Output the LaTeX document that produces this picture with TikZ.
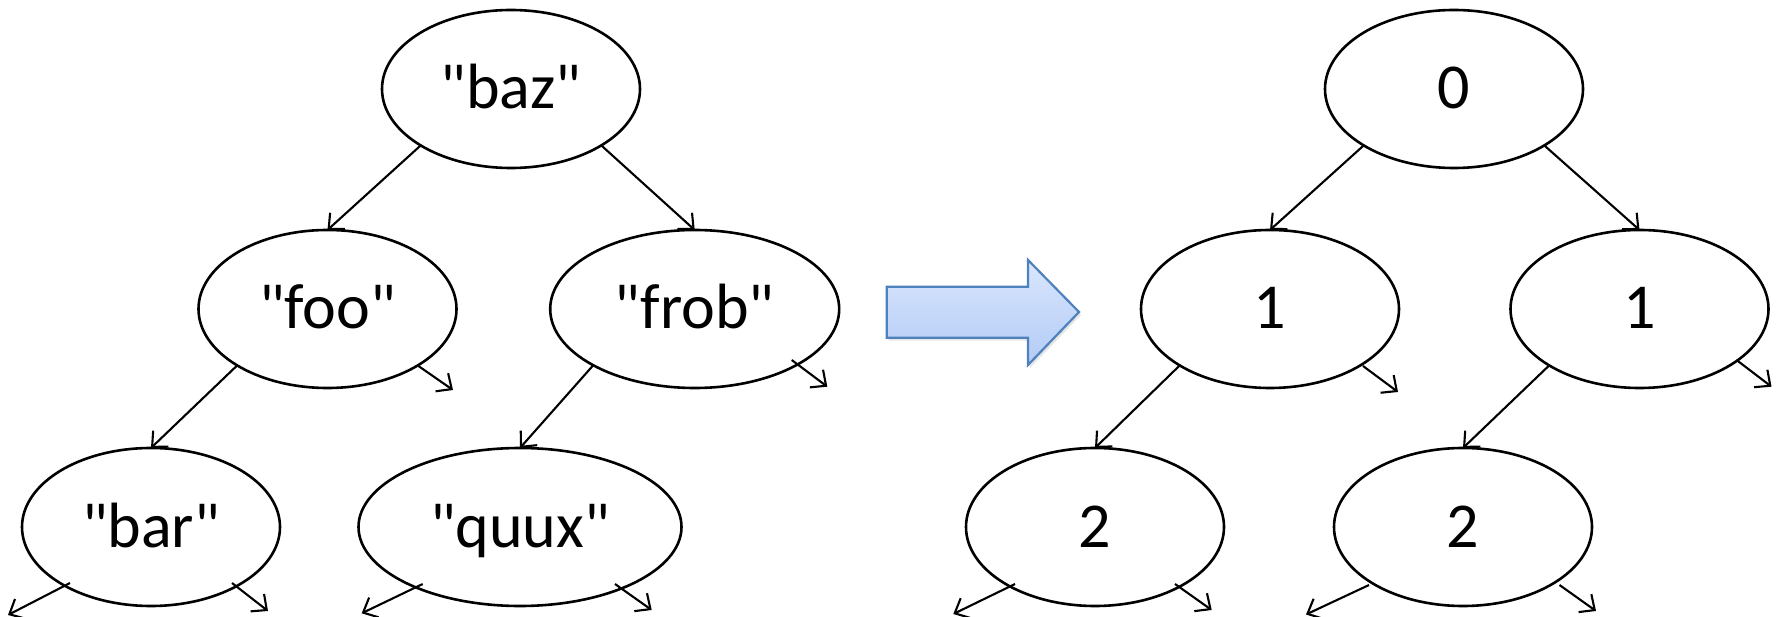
\documentclass[tikz,border=0pt]{standalone}
\usepackage{fontspec}
\setmainfont{Carlito}[Ligatures=TeXOff]
\usetikzlibrary{arrows.meta,calc,shadows,shapes.geometric}
\definecolor{arrowborder}{RGB}{79,129,189}
\definecolor{arrowtop}{RGB}{218,230,253}
\definecolor{arrowbottom}{RGB}{178,203,246}
\begin{document}
\begin{tikzpicture}[x=1pt,y=-1pt,
  tnode/.style={draw,ellipse,line width=2.6pt,inner sep=0pt,outer sep=0pt,
    minimum width=258pt,minimum height=158pt,
    text height=40pt,text depth=0pt,
    font=\fontsize{64}{72}\selectfont},
  edge/.style={line width=2.1pt,-{Straight Barb[length=12pt,width=22pt,line width=2.1pt]}}
]
\useasboundingbox (0,0) rectangle (1781,617);

% left tree
\node[tnode] (baz)  at (511,89)    {"baz"};
\node[tnode] (foo)  at (327.5,309) {"foo"};
\node[tnode,minimum width=289pt] (frob) at (694.7,309) {"frob"};
\node[tnode] (bar)  at (151,527)   {"bar"};
\node[tnode,minimum width=323pt] (quux) at (520,527) {"quux"};

% right tree
\node[tnode] (r0)  at (1454,89)   {0};
\node[tnode] (r1a) at (1270,309)  {1};
\node[tnode] (r1b) at (1639.5,309){1};
\node[tnode] (r2a) at (1095,527)  {2};
\node[tnode] (r2b) at (1463,527)  {2};

% tree edges
\draw[edge] (baz.-148) -- (foo.north);
\draw[edge] (baz.-32)  -- (frob.north);
\draw[edge] (foo.-148) -- (bar.north);
\draw[edge] (frob.-151) -- (quux.north);
\draw[edge] (r0.-148)  -- (r1a.north);
\draw[edge] (r0.-32)   -- (r1b.north);
\draw[edge] (r1a.-148) -- (r2a.north);
\draw[edge] (r1b.-148) -- (r2b.north);

% dangling edges
\draw[edge] ($(foo.center)+(90.5,56.7)$) -- ++(35,24.3);
\draw[edge] ($(frob.center)+(97,51)$) -- ++(35.6,26.7);
\draw[edge] ($(bar.center)+(-81,56)$) -- ++(-62,32);
\draw[edge] ($(bar.center)+(81,56)$) -- ++(36,28);
\draw[edge] ($(quux.center)+(-97.3,57)$) -- ++(-61,29.3);
\draw[edge] ($(quux.center)+(95,57)$) -- ++(36.7,26);
\draw[edge] ($(r1a.center)+(93,57)$) -- ++(35,26);
\draw[edge] ($(r1b.center)+(97,51)$) -- ++(35,26.7);
\draw[edge] ($(r2a.center)+(-80,57)$) -- ++(-61.7,30);
\draw[edge] ($(r2a.center)+(80,57)$) -- ++(36.7,26);
\draw[edge] ($(r2b.center)+(-94,58)$) -- ++(-63,29.5);
\draw[edge] ($(r2b.center)+(96.5,58)$) -- ++(36.5,26);

% transformation arrow
\draw[line width=2.2pt,draw=arrowborder,line join=miter,
  top color=arrowtop,bottom color=arrowbottom,
  drop shadow={opacity=0.2,shadow xshift=2pt,shadow yshift=-3pt}]
  (886.7,286.7) -- (1028,286.7) -- (1028,260) -- (1079,312)
  -- (1028,365) -- (1028,337.7) -- (886.7,337.7) -- cycle;
\end{tikzpicture}
\end{document}
